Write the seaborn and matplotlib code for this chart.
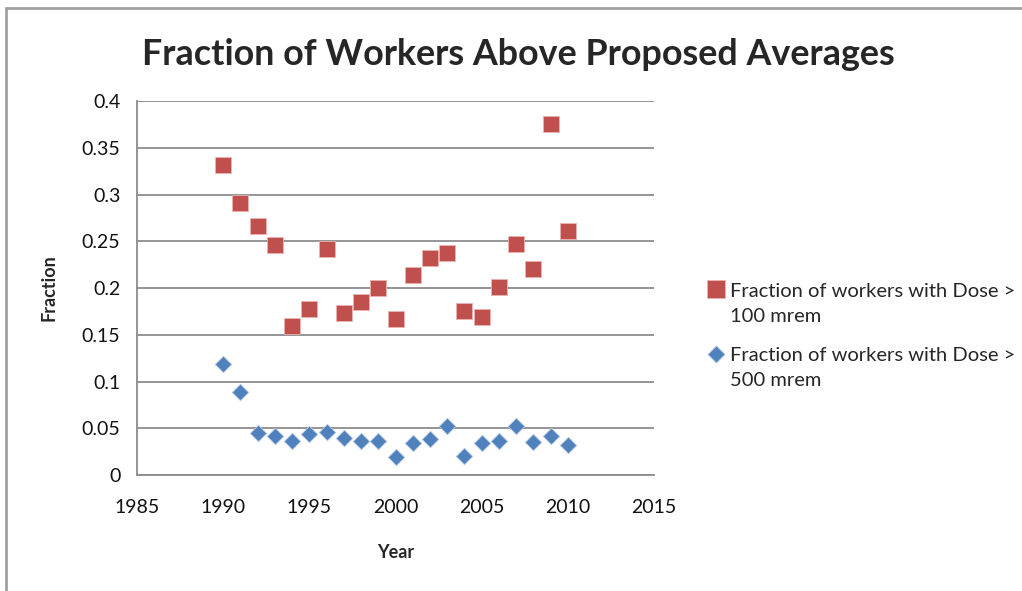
import matplotlib
matplotlib.use('Agg')
import matplotlib.pyplot as plt
from matplotlib.lines import Line2D
from matplotlib.ticker import FuncFormatter
import seaborn as sns
import pandas as pd

years = list(range(1990, 2011))
above_100 = [0.332, 0.291, 0.266, 0.246, 0.159, 0.178, 0.242, 0.173, 0.185, 0.200,
             0.167, 0.214, 0.232, 0.238, 0.176, 0.169, 0.201, 0.247, 0.220, 0.375, 0.261]
above_500 = [0.119, 0.089, 0.045, 0.042, 0.037, 0.044, 0.046, 0.040, 0.036, 0.037,
             0.019, 0.034, 0.0385, 0.053, 0.021, 0.034, 0.036, 0.053, 0.035, 0.042, 0.032]
label_100 = 'Fraction of workers with Dose >\n100 mrem'
label_500 = 'Fraction of workers with Dose >\n500 mrem'

sns.set_style('white')
plt.rcParams['font.family'] = ['Lato', 'DejaVu Sans']

df100 = pd.DataFrame({'Year': years, 'Fraction': above_100})
df500 = pd.DataFrame({'Year': years, 'Fraction': above_500})

fig = plt.figure(figsize=(10.22, 5.91), dpi=100)
ax = fig.add_axes([0.134, 0.196, 0.506, 0.633])

sns.scatterplot(data=df100, x='Year', y='Fraction', marker='s', s=135,
                color='#C0504D', edgecolor='#E8B4B2', linewidth=0.6, label=label_100, ax=ax, zorder=3)
sns.scatterplot(data=df500, x='Year', y='Fraction', marker='D', s=70,
                color='#4F81BD', edgecolor='#B3C7E2', linewidth=0.6, label=label_500, ax=ax, zorder=3)

ax.set_xlim(1985, 2015)
ax.set_ylim(0, 0.4)
ax.set_xticks(range(1985, 2016, 5))
ax.set_yticks([i * 0.05 for i in range(9)])
ax.yaxis.set_major_formatter(FuncFormatter(lambda v, p: f'{v:g}'))
ax.grid(axis='y', color='#8c8c8c', linewidth=1.3)
ax.set_axisbelow(True)
for side in ['top', 'right']:
    ax.spines[side].set_visible(False)
for side in ['left', 'bottom']:
    ax.spines[side].set_color('#8c8c8c')
    ax.spines[side].set_linewidth(1.3)
ax.tick_params(axis='both', direction='out', length=6, width=1.3, color='#8c8c8c',
               labelsize=14, labelcolor='#111111')
ax.tick_params(axis='x', pad=11)
ax.tick_params(axis='y', pad=6)
ax.set_xlabel('Year', fontsize=13, fontweight='bold', labelpad=20)
ax.set_ylabel('Fraction', fontsize=13, fontweight='bold', labelpad=17)

fig.suptitle('Fraction of Workers Above Proposed Averages', x=0.507, y=0.935,
             fontsize=25.8, fontweight='bold')

leg = ax.legend(loc='center left', bbox_to_anchor=(1.085, 0.372), frameon=False, fontsize=14.5,
                handletextpad=0.2, labelspacing=1.1, borderaxespad=0, handlelength=1.0)
for t in leg.get_texts():
    t.set_linespacing(1.6)
# keep each marker level with the first line of its label, as in the original
for h, size in zip(leg.legend_handles, [150, 75]):
    offs = h.get_offsets()
    offs[:, 1] += 11.5
    h.set_offsets(offs)
    h.set_sizes([size])

fig.add_artist(Line2D([0.0055, 0.0055], [0, 0.986], color='#a0a0a0', linewidth=2))
fig.add_artist(Line2D([0.0055, 1.0], [0.986, 0.986], color='#a0a0a0', linewidth=2))

fig.savefig('out.png', dpi=100, facecolor='white')
plt.close(fig)
